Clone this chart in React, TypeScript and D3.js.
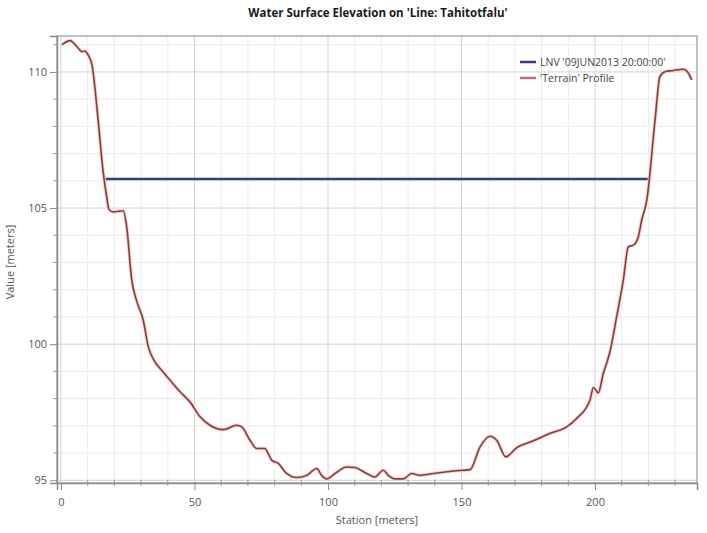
import React, { useEffect, useRef } from "react";
import * as d3 from "d3";

// terrain profile (station m -> elevation m)
const stations = [0.3, 3.4, 6.4, 7.9, 9.0, 10.1, 11.6, 13.9, 15.7, 16.9, 18.0, 19.6, 23.3, 24.6, 26.5, 28.3, 30.8, 32.7, 35.2, 37.7, 40.8, 44.6, 48.3, 52.1, 55.8, 60.8, 65.8, 67.7, 70.8, 73.3, 76.4, 77.6, 78.9, 81.4, 84.5, 88.3, 92.0, 95.8, 97.6, 99.5, 102.6, 107.0, 110.0, 114.5, 117.6, 120.7, 122.6, 125.1, 128.2, 131.3, 134.5, 139.5, 147.0, 153.2, 156.9, 160.7, 163.2, 166.6, 170.7, 176.9, 183.1, 189.4, 193.1, 198.1, 199.4, 201.2, 203.1, 205.6, 208.1, 210.6, 212.5, 214.4, 216.2, 217.5, 219.4, 222.5, 224.3, 226.2, 229.3, 233.1, 235.0, 236.2];
const elevations = [111.0, 111.15, 110.88, 110.74, 110.77, 110.63, 110.26, 108.24, 106.4, 105.55, 104.95, 104.86, 104.9, 104.31, 102.35, 101.6, 100.88, 99.9, 99.35, 99.04, 98.68, 98.25, 97.88, 97.33, 97.02, 96.86, 97.02, 96.96, 96.47, 96.17, 96.17, 95.98, 95.74, 95.62, 95.25, 95.1, 95.18, 95.43, 95.18, 95.05, 95.25, 95.49, 95.47, 95.25, 95.12, 95.37, 95.18, 95.05, 95.05, 95.25, 95.18, 95.25, 95.34, 95.39, 96.22, 96.62, 96.47, 95.86, 96.2, 96.45, 96.72, 96.96, 97.27, 97.94, 98.41, 98.21, 98.92, 99.72, 101.0, 102.35, 103.58, 103.64, 103.94, 104.56, 105.29, 108.24, 109.83, 110.01, 110.05, 110.1, 109.95, 109.71];

// water surface
const waterStations = [15.9, 220.0];
const waterLevels = [106.07, 106.07];

const xTicks = [0, 50, 100, 150, 200];
const yTicks = [95, 100, 105, 110];
const legendLabels = ["LNV '09JUN2013 20:00:00'", "'Terrain' Profile"];

const W = 707;
const H = 533;
const FONT = "'Open Sans', 'DejaVu Sans', sans-serif";

export default function App() {
  const ref = useRef<SVGSVGElement | null>(null);

  useEffect(() => {
    const svg = d3.select(ref.current);
    svg.selectAll("*").remove();

    const left = 57, right = 697, top = 36, bottom = 483;

    const x = d3.scaleLinear().domain([-1.5, 238.2]).range([left, right]);
    const y = d3.scaleLinear().domain([94.9, 111.32]).range([bottom, top]);

    svg.append("rect").attr("width", W).attr("height", H).attr("fill", "#fff");

    // grid
    const grid = svg.append("g");
    const minorX = d3.range(0, 240, 10).filter(v => v % 50 !== 0);
    const minorY = d3.range(95, 112, 1).filter(v => v % 5 !== 0);
    grid.selectAll(".mx").data(minorX).enter().append("line")
      .attr("x1", d => x(d)).attr("x2", d => x(d))
      .attr("y1", top).attr("y2", bottom)
      .attr("stroke", "#ebebeb").attr("stroke-width", 1);
    grid.selectAll(".my").data(minorY).enter().append("line")
      .attr("x1", left).attr("x2", right)
      .attr("y1", d => y(d)).attr("y2", d => y(d))
      .attr("stroke", "#ebebeb").attr("stroke-width", 1);
    grid.selectAll(".Mx").data(xTicks).enter().append("line")
      .attr("x1", d => x(d)).attr("x2", d => x(d))
      .attr("y1", top).attr("y2", bottom)
      .attr("stroke", "#d2d2d2").attr("stroke-width", 1);
    grid.selectAll(".My").data(yTicks).enter().append("line")
      .attr("x1", left).attr("x2", right)
      .attr("y1", d => y(d)).attr("y2", d => y(d))
      .attr("stroke", "#d2d2d2").attr("stroke-width", 1);

    // frame
    svg.append("rect")
      .attr("x", left).attr("y", top)
      .attr("width", right - left).attr("height", bottom - top)
      .attr("fill", "none").attr("stroke", "#9a9a9a").attr("stroke-width", 1.2);

    // axes
    const yAxis = d3.axisLeft(y).tickValues(yTicks).tickSize(7).tickFormat(d3.format("d"));
    const gy = svg.append("g").attr("transform", `translate(${left},0)`).call(yAxis);
    const xAxis = d3.axisBottom(x).tickValues(xTicks).tickSize(7).tickFormat(d3.format("d"));
    const gx = svg.append("g").attr("transform", `translate(0,${bottom})`).call(xAxis);
    [gx, gy].forEach(g => {
      g.select(".domain").attr("stroke", "#8a8a8a").attr("stroke-width", 1.5);
      g.selectAll(".tick line").attr("stroke", "#8a8a8a");
      g.selectAll(".tick text").attr("fill", "#555").style("font-family", FONT).style("font-size", "11px");
    });
    gy.selectAll(".tick text").attr("x", -10);
    gx.selectAll(".tick text").attr("y", 15);

    // minor ticks
    svg.append("g").selectAll("line").data(minorY).enter().append("line")
      .attr("x1", left - 4).attr("x2", left)
      .attr("y1", d => y(d)).attr("y2", d => y(d))
      .attr("stroke", "#9a9a9a");
    svg.append("g").selectAll("line").data(minorX).enter().append("line")
      .attr("x1", d => x(d)).attr("x2", d => x(d))
      .attr("y1", bottom - 3).attr("y2", bottom + 3)
      .attr("stroke", "#9a9a9a");

    // water surface
    const water = waterStations.map((s, i) => [s, waterLevels[i]] as [number, number]);
    svg.append("path")
      .datum(water)
      .attr("fill", "none").attr("stroke", "#2e3f82").attr("stroke-width", 2.5)
      .attr("d", d3.line<[number, number]>().x(d => x(d[0])).y(d => y(d[1])));

    // terrain
    const terrain = stations.map((s, i) => [s, elevations[i]] as [number, number]);
    const tl = d3.line<[number, number]>().x(d => x(d[0])).y(d => y(d[1])).curve(d3.curveMonotoneX);
    svg.append("path").datum(terrain)
      .attr("fill", "none").attr("stroke", "#f2cfcf").attr("stroke-width", 3.5)
      .attr("d", tl);
    svg.append("path").datum(terrain)
      .attr("fill", "none").attr("stroke", "#8a3d3d").attr("stroke-width", 1.6)
      .attr("d", tl);

    // legend
    const legendColors = ["#2e3f82", "#c27070"];
    const lg = svg.append("g");
    legendLabels.forEach((lab, i) => {
      const ly = 62 + i * 16;
      lg.append("line").attr("x1", 520).attr("x2", 536).attr("y1", ly).attr("y2", ly)
        .attr("stroke", legendColors[i]).attr("stroke-width", 2.5);
      lg.append("text").attr("x", 540).attr("y", ly + 4)
        .attr("fill", "#444").style("font-family", FONT).style("font-size", "10.5px")
        .text(lab);
    });

    // titles
    svg.append("text")
      .attr("x", 378).attr("y", 17)
      .attr("text-anchor", "middle")
      .attr("fill", "#1a1a1a")
      .style("font-family", FONT).style("font-size", "11.5px").style("font-weight", "bold")
      .text("Water Surface Elevation on 'Line: Tahitotfalu'");
    svg.append("text")
      .attr("x", 377).attr("y", 524)
      .attr("text-anchor", "middle")
      .attr("fill", "#555")
      .style("font-family", FONT).style("font-size", "11px")
      .text("Station [meters]");
    svg.append("text")
      .attr("transform", "rotate(-90)")
      .attr("x", -262).attr("y", 14)
      .attr("text-anchor", "middle")
      .attr("fill", "#555")
      .style("font-family", FONT).style("font-size", "11px")
      .text("Value [meters]");
  }, []);

  return (
    <div>
      <svg ref={ref} width={W} height={H} style={{ position: "absolute", left: 0, top: 0 }}></svg>
    </div>
  );
}
